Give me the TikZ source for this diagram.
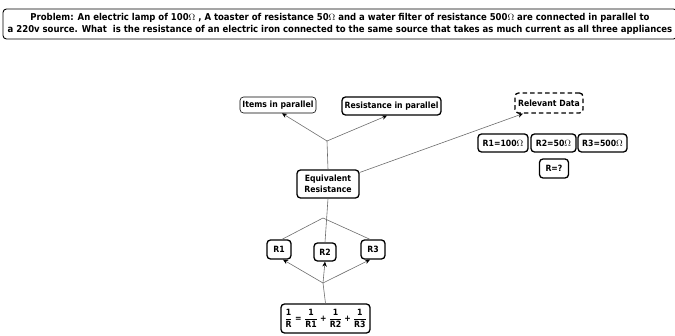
\documentclass[tikz,border=0pt]{standalone}
\usepackage{fontspec}
\setmainfont{DejaVu Sans Condensed}[BoldFont={DejaVu Sans Condensed Bold}]
\usetikzlibrary{arrows.meta}
\tikzset{
  box/.style={draw=black, rounded corners=3.5pt, line width=1.3pt, fill=white, inner sep=1pt, font=\fontsize{8.6}{10.5}\selectfont\bfseries, align=center},
  thinbox/.style={box, line width=0.6pt},
  dashbox/.style={box, dashed, dash pattern=on 4.5pt off 3pt},
  conn/.style={draw=gray!85!black, line width=0.6pt},
  arr/.style={conn, -{Stealth[length=5pt,width=4.5pt,color=black]}},
  sz/.style 2 args={minimum width=#1pt, minimum height=#2pt},
}
\newcommand{\fr}[2]{\frac{\hbox{\bfseries #1}}{\hbox{\bfseries #2}}}
\begin{document}
\begin{tikzpicture}[x=1pt,y=-1pt]
\useasboundingbox (0,0) rectangle (675,336);
\node[box, line width=0.9pt, minimum width=674pt, minimum height=30pt, inner sep=0pt, font=\fontsize{9.45}{12}\selectfont\bfseries] (prob) at (340,24) {Problem: An electric lamp of 100$\Omega$ , A toaster of resistance 50$\Omega$ and a water filter of resistance 500$\Omega$ are connected in parallel to\\a 220v source. What\ \ is the resistance of an electric iron connected to the same source that takes as much current as all three appliances};
\node[thinbox, sz={76}{16}] (items) at (278,105) {Items in parallel};
\node[box, sz={99}{18}] (resist) at (391.5,106) {Resistance in parallel};
\node[box, sz={62}{28}] (equiv) at (328,184) {Equivalent\\Resistance};
\node[dashbox, sz={68}{20}] (rel) at (549,103) {Relevant Data};
\node[box, sz={50}{18}] (r1v) at (503,143) {R1=100$\Omega$};
\node[box, sz={45}{18}] (r2v) at (553.5,143) {R2=50$\Omega$};
\node[box, sz={49}{18}] (r3v) at (602.5,143) {R3=500$\Omega$};
\node[box, sz={29}{19}] (req) at (554,168.5) {R=?};
\node[box, sz={24}{19}] (R1) at (279,249.5) {R1};
\node[box, sz={22}{18}] (R2) at (325,252) {R2};
\node[box, sz={24}{19}] (R3) at (373,249.5) {R3};
\node[box, sz={89}{29}, inner sep=0pt] (form) at (325.5,318.5) {$\displaystyle\fr{1}{R}\mathrel{\hbox{\bfseries =}}\fr{1}{R1}\mathbin{\hbox{\bfseries +}}\fr{1}{R2}\mathbin{\hbox{\bfseries +}}\fr{1}{R3}$};
\coordinate (b1) at (327,141);
\coordinate (b2) at (323,218);
\coordinate (b3) at (323,283);
\draw[conn] (equiv.north) -- (b1);
\draw[arr] (b1) -- (items.south -| 282,0);
\draw[arr] (b1) -- (resist.south -| 387,0);
\draw[arr] (equiv.20) -- (rel.south west -| 523,0);
\draw[conn] (equiv.south) -- (R2.north);
\draw[conn] (b2) -- (R1.north -| 282,0);
\draw[conn] (b2) -- (R3.north -| 370,0);
\draw[conn] (form.north) -- (b3);
\draw[arr] (b3) -- (R1.south -| 283,0);
\draw[arr] (b3) -- (R2.south);
\draw[arr] (b3) -- (R3.south -| 370,0);
\end{tikzpicture}
\end{document}
